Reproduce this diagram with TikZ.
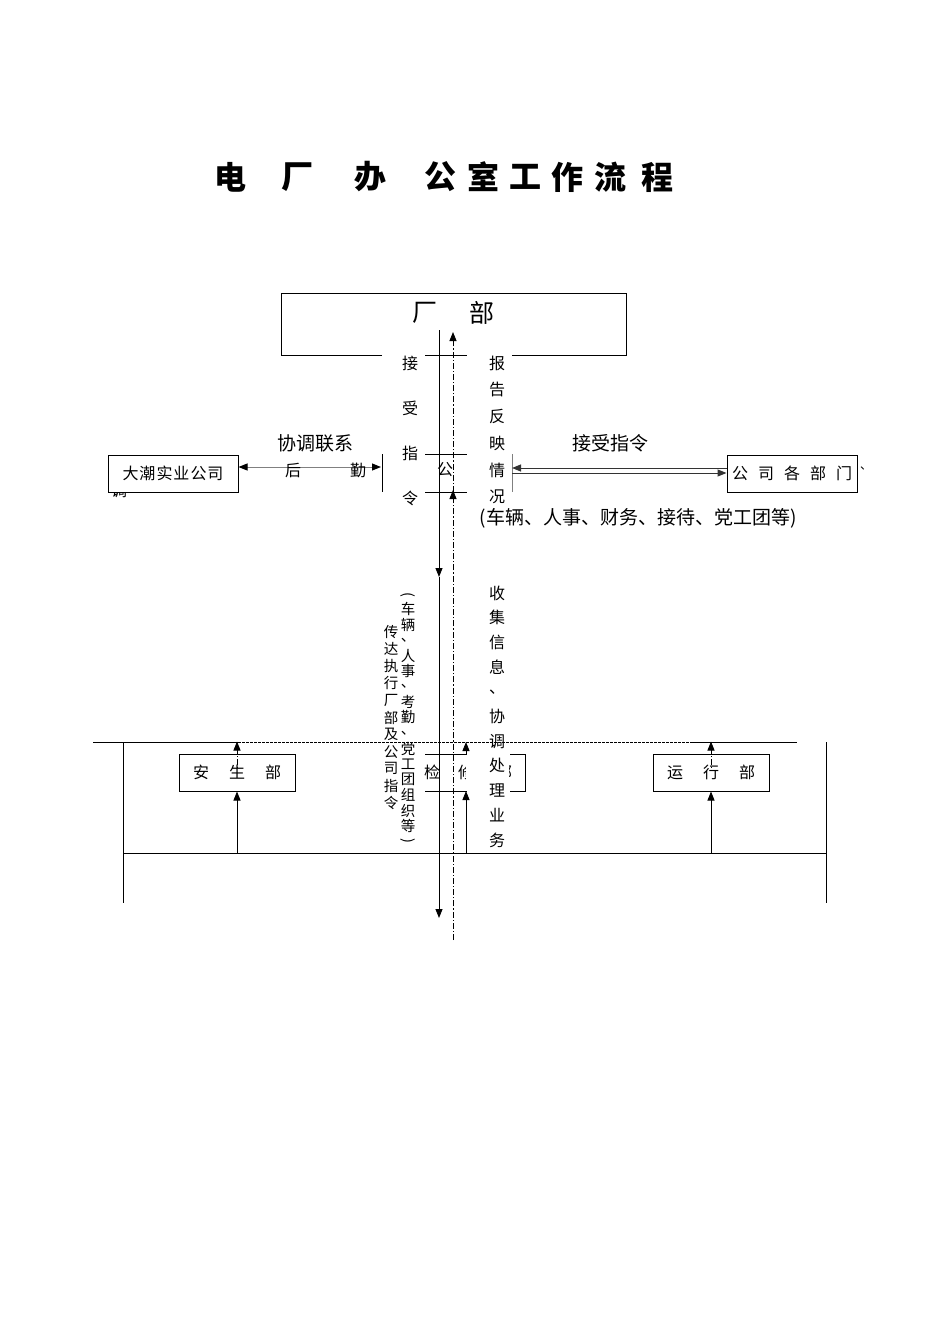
\documentclass[tikz,border=0pt]{standalone}
\usepackage{fontspec}
\newfontfamily\cjk{Noto Sans CJK SC}
\usetikzlibrary{arrows.meta,calc}
\begin{document}
\begin{tikzpicture}[x=1pt,y=-1pt,
  every node/.style={font=\cjk\fontsize{16}{16}\selectfont, inner sep=0pt, text=black},
  ln/.style={line width=0.9pt},
  boxn/.style={draw, line width=1pt, minimum height=37pt, inner sep=0pt},
  tip/.style={-{Triangle[length=9pt,width=7pt]}},
  dd/.style={line width=0.9pt, dash pattern=on 6pt off 2pt on 1.2pt off 2pt},
  big/.style={font=\cjk\fontsize{19}{19}\selectfont},
  sm/.style={font=\cjk\fontsize{14.5}{14.5}\selectfont},
]
\useasboundingbox (0,0) rectangle (950,1344);
\fill[white] (0,0) rectangle (950,1344);

% title
\foreach \x/\c [count=\i] in {230/电,297/厂,370/办,440/公,483/室,525/工,567/作,610/流,657/程}
  \node[font=\cjk\fontsize{32}{32}\selectfont\bfseries] (t\i) at (\x,177) {\c};

% factory box
\draw[line width=1pt] (382,355) -- (281,355) -- (281,293) -- (626,293) -- (626,355) -- (512,355);
\draw[ln] (425,355) -- (467,355);
\node[font=\cjk\fontsize{25}{25}\selectfont] (cb1) at (425,313) {厂};
\node[font=\cjk\fontsize{25}{25}\selectfont] (cb2) at (482,313) {部};

% vertical text columns
\foreach \c [count=\i from 0] in {接,受,指,令}
  \node (jl\i) at (410,363+45*\i) {\c};
\foreach \c [count=\i from 0] in {报,告,反,映,情,况}
  \node (bg\i) at (497,363+26.8*\i) {\c};
\foreach \c [count=\i from 0] in {收,集,信,息,、,协,调,处,理,业,务}
  \node (sj\i) at (497,593+24.7*\i) {\c};
\foreach \c [count=\i from 0] in {传,达,执,行,厂,部,及,公,司,指,令}
  \node[sm] (cd\i) at (391,632+17.1*\i) {\c};
\node[sm,rotate=-90] (pl) at (408,595) {(};
\foreach \c [count=\i from 0] in {车,辆,、,人,事,、,考,勤,、,党,工,团,组,织,等}
  \node[sm] (cl\i) at (408,609+15.5*\i) {\c};
\node[sm,rotate=-90] (pr) at (408,841) {)};

\node (gong) at (445,470) {公};

% short horizontal lines at the centre
\draw[ln] (425,454) -- (467,454);
\draw[ln] (425,492) -- (467,492);
\draw[ln] (382,454) -- (382,492);
\draw[gray,line width=0.8pt] (512,454) -- (512,492);

% main vertical lines
\draw[ln,tip] (439,330) -- (439,577);
\draw[ln,tip] (439,577) -- (439,918);
\draw[dd] (453,940) -- (453,342);
\draw[ln,tip] (453,345) -- (453,332);
\draw[ln,tip] (453,503) -- (453,490);

% left company
\node[boxn, minimum width=130pt] (dc) at (173,473.5) {大\hspace{1pt}潮\hspace{1pt}实\hspace{1pt}业\hspace{1pt}公\hspace{1pt}司};
\draw[gray,line width=1pt,{Triangle[length=9pt,width=7pt,black]}-{Triangle[length=9pt,width=7pt,black]}]
  ([yshift=6.5pt]dc.east) -- (381,467);
\node[big] (xt) at (315,443) {协调联系};
\node (hou) at (293,470) {后};
\node (qin) at (358,470) {勤};
\begin{scope}
  \clip (105,493) rectangle (135,506);
  \node (diao) at (119,491) {调};
\end{scope}

% right departments
\node[boxn, minimum width=130pt] (gs) at (792,473.5) {公\hspace{10pt}司\hspace{10pt}各\hspace{10pt}部\hspace{10pt}门};
\draw[line width=1pt,color=black!80,tip] ([yshift=5.5pt]gs.west) -- (512,468);
\draw[line width=1pt,color=black!80,tip] (512,473) -- ([yshift=0.5pt]gs.west);
\node[big] (js) at (610,443) {接受指令};
\node[font=\cjk\fontsize{12}{12}\selectfont] (dun) at (866,468) {、};
\node[big] (cl) at (638,518) {(车辆、人事、财务、接待、党工团等)};

% bottom frame
\draw[ln] (93,742) -- (238,742);
\draw[ln,dash pattern=on 3pt off 1pt] (238,742) -- (690,742);
\draw[ln] (690,742) -- (797,742);
\draw[ln] (123,742) -- (123,903);
\draw[ln] (826,742) -- (826,903);
\draw[ln] (123,853) -- (826,853);

% safety dept
\node[boxn, minimum width=116pt] (aq) at (237,772.5) {安\hspace{20pt}生\hspace{20pt}部};
\draw[ln,tip] (aq.south |- 0,853) -- (aq.south);
\draw[ln,tip] (aq.north) -- ++(0,-12);
\draw[dd] (237,748) -- (237,768);

% operation dept
\node[boxn, minimum width=116pt] (yx) at (711,772.5) {运\hspace{20pt}行\hspace{20pt}部};
\draw[ln,tip] (yx.south |- 0,853) -- (yx.south);
\draw[ln,tip] (yx.north) -- ++(0,-12);
\draw[dd] (711,748) -- (711,768);

% maintenance dept (broken)
\draw[ln] (425,754) -- (467,754);
\draw[ln] (425,791) -- (467,791);
\draw[ln] (510,754) -- (525,754) -- (525,791) -- (510,791);
\node (jian) at (432,772) {检};
\begin{scope}
  \clip (455,760) rectangle (465.5,786);
  \node (xiu) at (466,772) {修};
\end{scope}
\begin{scope}
  \clip (509,760) rectangle (516,786);
  \node (bu) at (504,772) {部};
\end{scope}
\draw[ln,tip] (466,853) -- (466,791);
\draw[ln,tip] (466,754) -- (466,742);
\end{tikzpicture}
\end{document}
